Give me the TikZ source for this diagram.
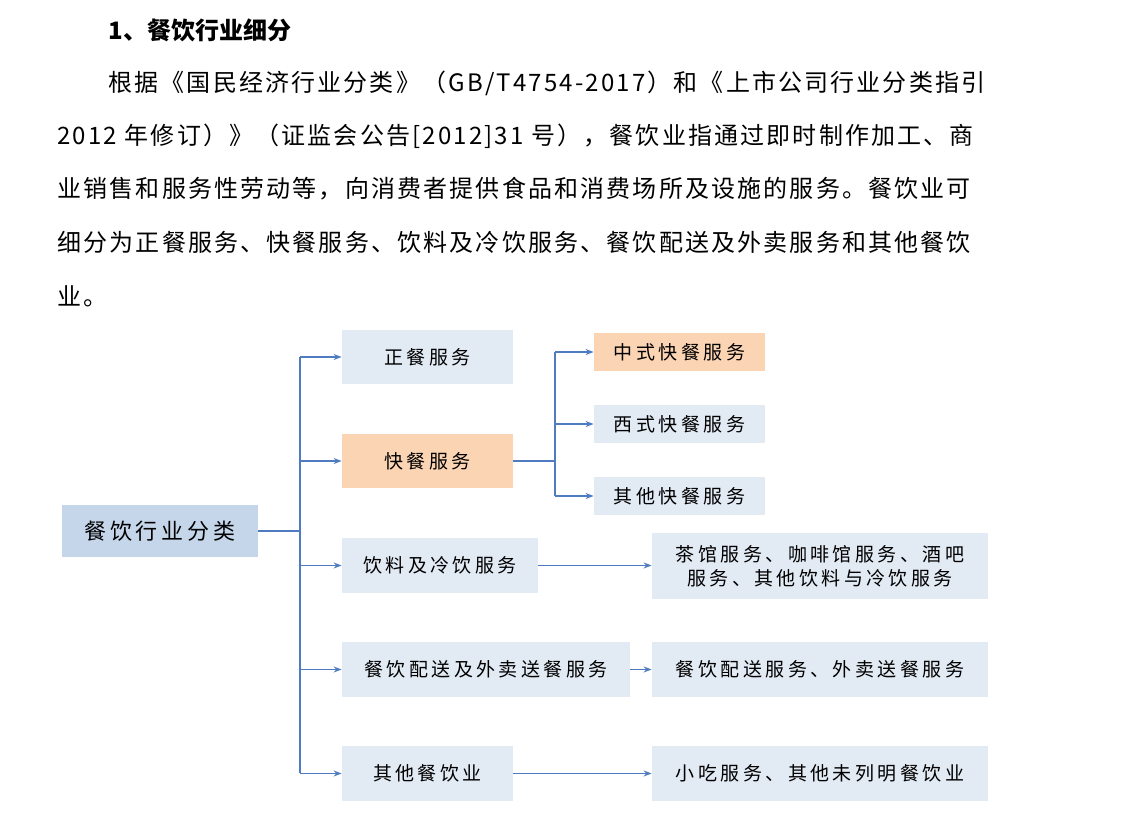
\documentclass[tikz,border=0pt]{standalone}
\usepackage{fontspec}
\setmainfont{Noto Sans CJK SC}
\newfontfamily\boxfont[LetterSpace=18]{Noto Sans CJK SC}
\newfontfamily\parafont[LetterSpace=9]{Noto Sans CJK SC}
\usetikzlibrary{arrows.meta}
\definecolor{bx}{HTML}{E2EAF4}
\definecolor{rt}{HTML}{C5D5EA}
\definecolor{og}{HTML}{FBD4B4}
\definecolor{ln}{HTML}{4F7CC0}
\begin{document}
\begin{tikzpicture}[x=0.5pt,y=-0.5pt,
 box/.style={fill=bx,inner sep=0,font=\boxfont\fontsize{9.5}{12}\selectfont},
 para/.style={anchor=west,inner sep=0,font=\parafont\fontsize{12}{14}\selectfont},
 arr/.style={draw=ln,line width=0.6pt,-{Stealth[length=4pt,width=3pt]}},
 ln/.style={draw=ln,line width=0.6pt}]
\useasboundingbox (0,0) rectangle (1148,820);
\node[para,font=\fontsize{12}{14}\selectfont\bfseries] (h) at (108,30) {1、餐饮行业细分};
\node[para] (p1) at (108,83) {根据《国民经济行业分类》（GB/T4754-2017）和《上市公司行业分类指引};
\node[para] (p2) at (57,136) {2012 年修订）》（证监会公告[2012]31 号），餐饮业指通过即时制作加工、商};
\node[para] (p3) at (57,189) {业销售和服务性劳动等，向消费者提供食品和消费场所及设施的服务。餐饮业可};
\node[para] (p4) at (57,242) {细分为正餐服务、快餐服务、饮料及冷饮服务、餐饮配送及外卖服务和其他餐饮};
\node[para] (p5) at (57,296) {业。};
\def\bx#1#2#3#4#5#6{\node[box,#6,minimum width={(#3-#1)*0.5pt},minimum height={(#4-#2)*0.5pt}] (#5) at ({(#1+#3)/2},{(#2+#4)/2})}
\bx{62}{505}{258}{557}{root}{fill=rt,font=\boxfont\fontsize{11}{13}\selectfont} {餐饮行业分类};
\bx{342}{330}{513}{384}{a}{} {正餐服务};
\bx{342}{434}{513}{488}{b}{fill=og} {快餐服务};
\bx{342}{538}{538}{593}{c}{} {饮料及冷饮服务};
\bx{342}{642}{630}{697}{d}{} {餐饮配送及外卖送餐服务};
\bx{342}{746}{513}{801}{e}{} {其他餐饮业};
\bx{594}{333}{765}{371}{b1}{fill=og} {中式快餐服务};
\bx{594}{405}{765}{443}{b2}{} {西式快餐服务};
\bx{594}{477}{765}{515}{b3}{} {其他快餐服务};
\bx{652}{533}{988}{599}{c1}{align=center} {茶馆服务、咖啡馆服务、酒吧\\服务、其他饮料与冷饮服务};
\bx{652}{642}{988}{697}{d1}{} {餐饮配送服务、外卖送餐服务};
\bx{652}{746}{988}{801}{e1}{} {小吃服务、其他未列明餐饮业};
\coordinate (t) at (300,531);
\draw[ln] (root.east) -- (t);
\draw[ln] (300,357) -- (300,773);
\foreach \n in {a,b,c,d,e} \draw[arr] (t |- \n.west) -- (\n.west);
\coordinate (u) at (555,461);
\draw[ln] (b.east) -- (u);
\draw[ln] (555,352) -- (555,496);
\foreach \n in {b1,b2,b3} \draw[arr] (u |- \n.west) -- (\n.west);
\draw[arr] (c.east) -- (c.east -| c1.west);
\draw[arr] (d.east) -- (d1.west);
\draw[arr] (e.east) -- (e1.west);
\end{tikzpicture}
\end{document}
